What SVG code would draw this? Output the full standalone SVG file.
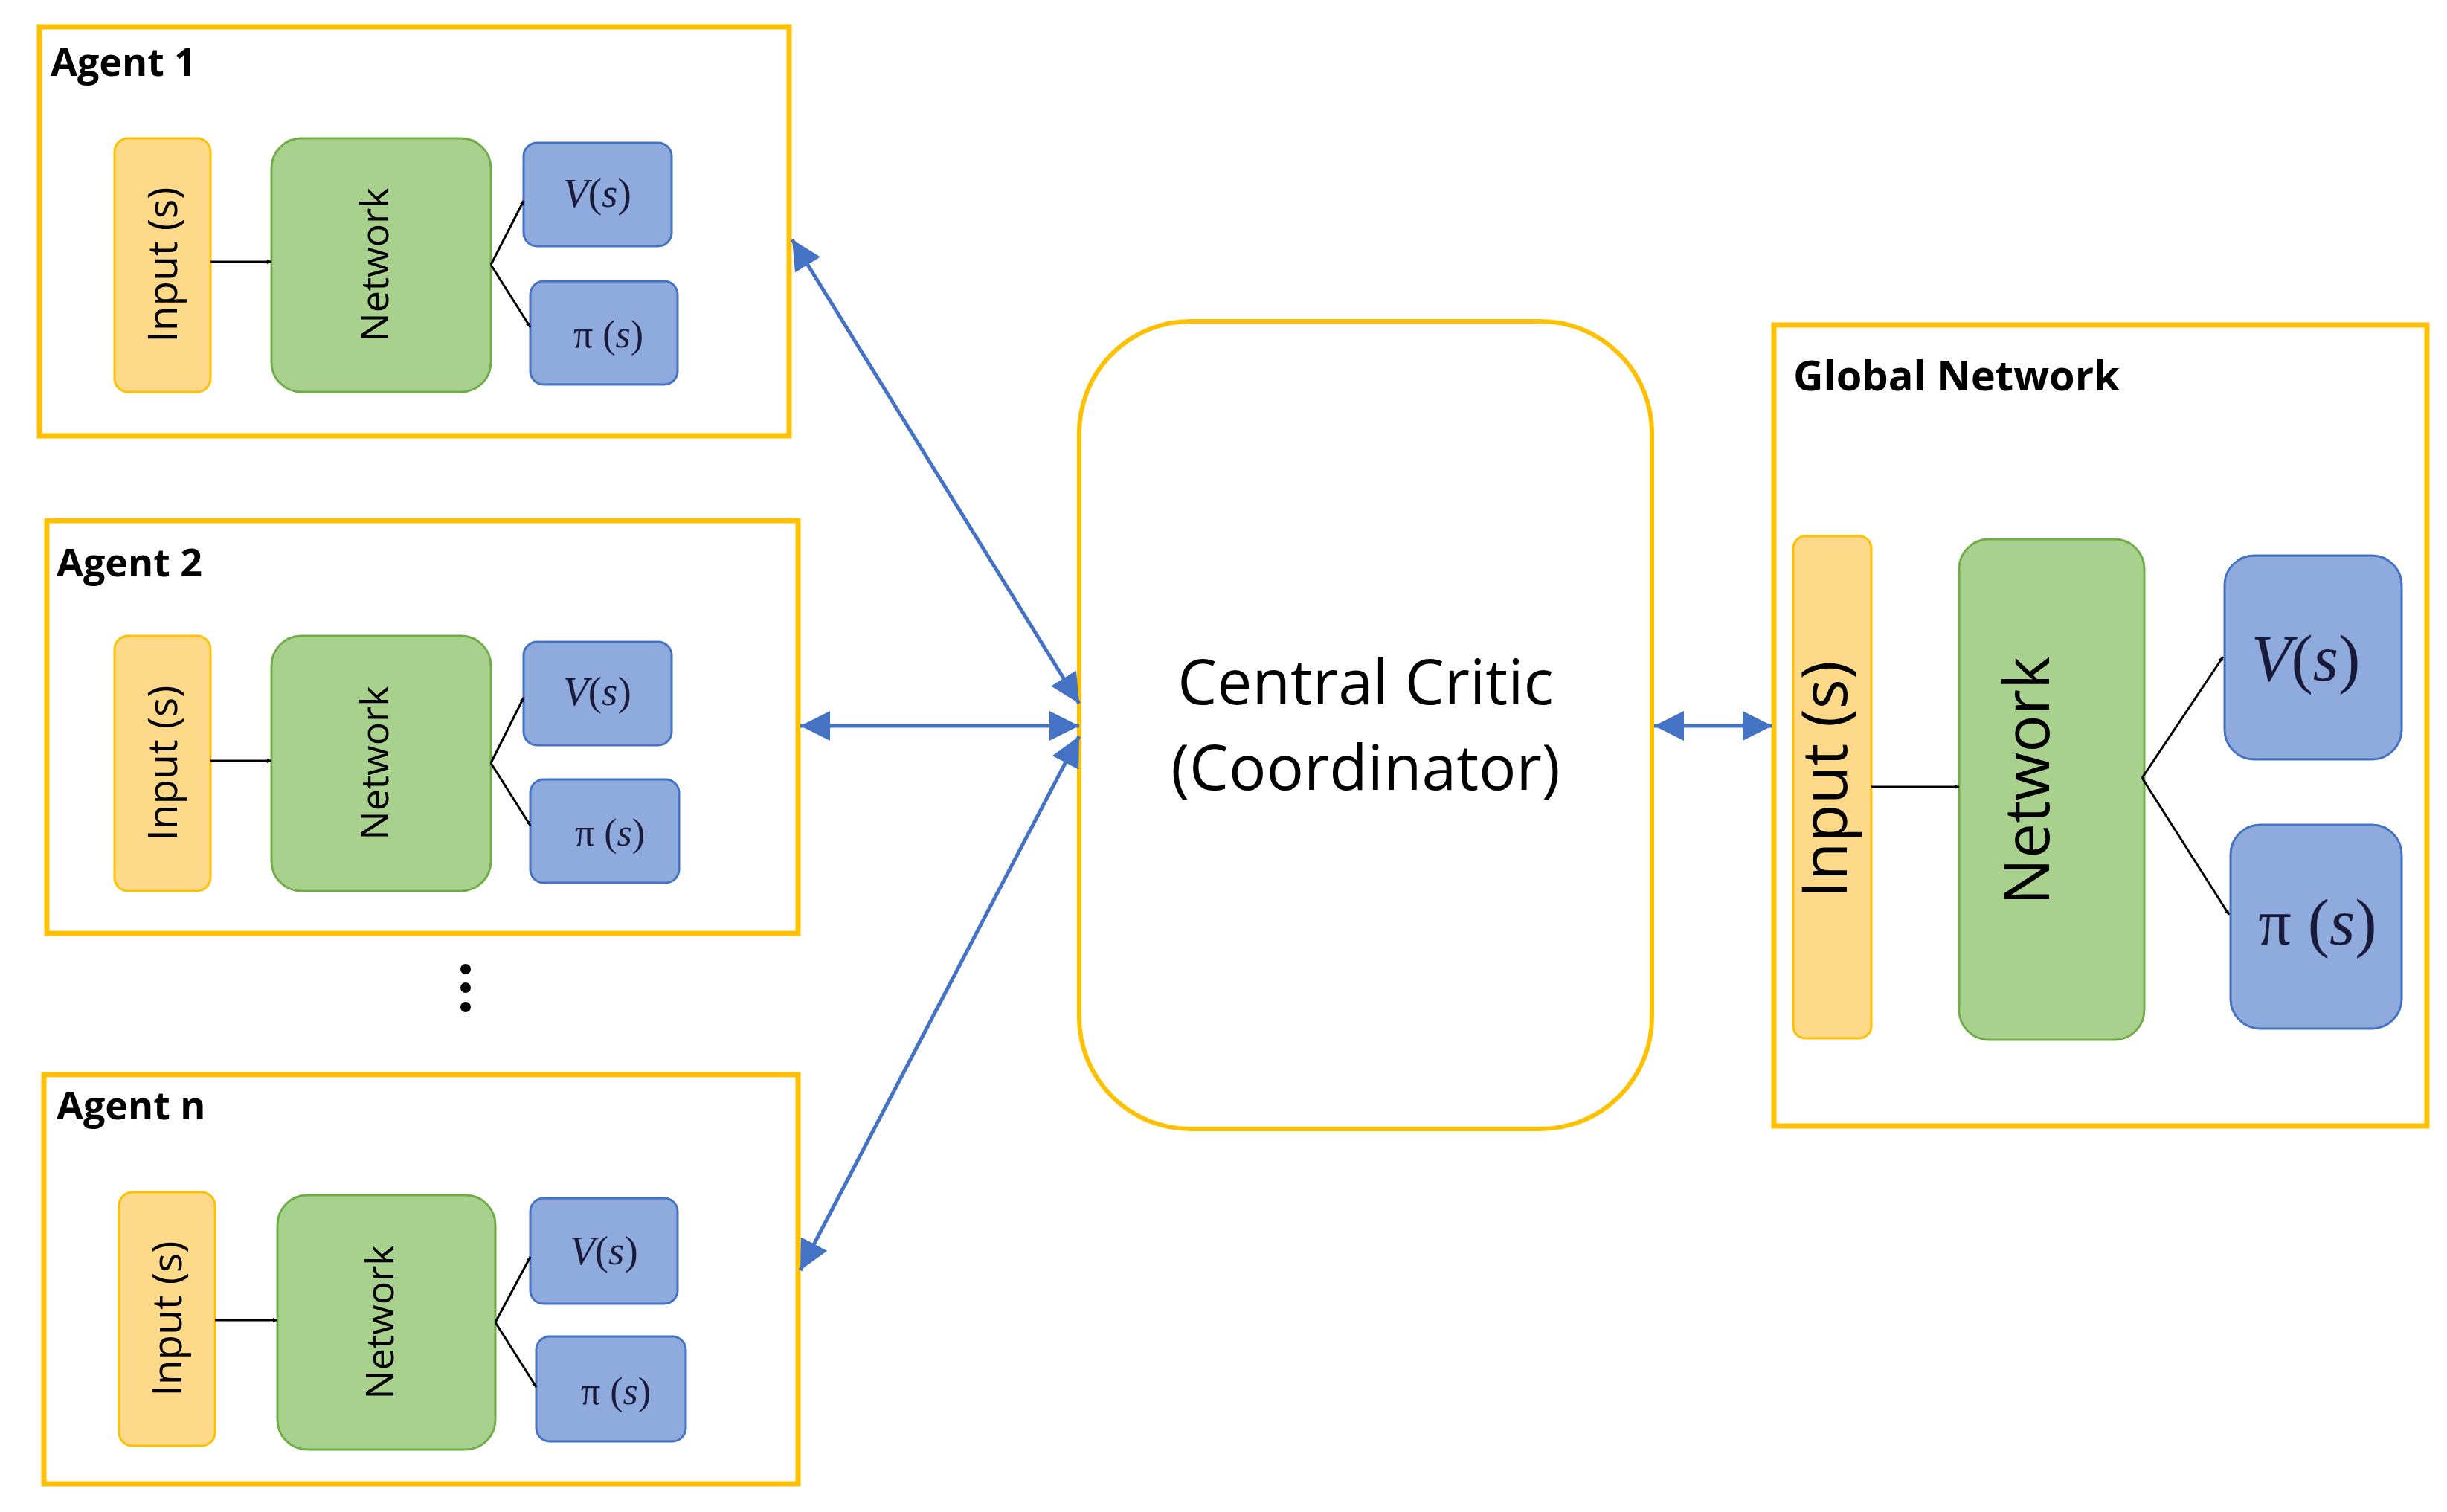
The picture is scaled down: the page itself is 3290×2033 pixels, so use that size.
<svg xmlns="http://www.w3.org/2000/svg" width="3290" height="2033" viewBox="0 0 3290 2033">
<style>
.frame{fill:#fff;stroke:#FFC000;stroke-width:7}
.inp{fill:#FFD98A;stroke:#FFC000;stroke-width:3}
.net{fill:#A9D18E;stroke:#70AD47;stroke-width:3}
.out{fill:#8FAADC;stroke:#4472C4;stroke-width:3}
.title{font-family:"Open Sans","Liberation Sans",sans-serif;font-weight:bold;fill:#000}
.lbl{font-family:"Open Sans","Liberation Sans",sans-serif;fill:#000}
.math{font-family:"Liberation Serif",serif;fill:#1a1a3a}
.blk{stroke:#000;stroke-width:3;fill:none}
.blu{stroke:#4472C4;stroke-width:5;fill:none;marker-start:url(#ba);marker-end:url(#ba)}
</style>
<defs>
<marker id="ka" viewBox="0 0 10 10" refX="10" refY="5" markerWidth="6" markerHeight="6" markerUnits="userSpaceOnUse" orient="auto"><path d="M0,0L10,5L0,10z" fill="#000"/></marker>
<marker id="ba" viewBox="0 0 10 10" refX="10" refY="5" markerWidth="8" markerHeight="8" orient="auto-start-reverse"><path d="M0,0L10,5L0,10z" fill="#4472C4"/></marker>
</defs>
<rect width="3290" height="2033" fill="#fff"/>
<g id="agent1">
<rect class="frame" x="53" y="36" width="1008" height="550"/>
<text class="title" x="68" y="102" font-size="52">Agent 1</text>
<rect class="inp" x="154" y="186" width="129" height="341" rx="18"/>
<text class="lbl" font-size="55" text-anchor="middle" transform="translate(238,356) rotate(-90)">Input (s)</text>
<rect class="net" x="365" y="186" width="295" height="341" rx="40"/>
<text class="lbl" font-size="52" text-anchor="middle" transform="translate(522,356) rotate(-90)">Network</text>
<rect class="out" x="704" y="192" width="199" height="139" rx="18"/>
<text class="math" x="803" y="278" font-size="55" text-anchor="middle"><tspan font-style="italic">V</tspan>(<tspan font-style="italic">s</tspan>)</text>
<rect class="out" x="713" y="378" width="198" height="139" rx="18"/>
<text class="math" x="818" y="467" font-size="52" text-anchor="middle">π (<tspan font-style="italic">s</tspan>)</text>
<path class="blk" d="M283,352H365" marker-end="url(#ka)" stroke-width="6"/>
<path class="blk" d="M660,356L704,270" marker-end="url(#ka)"/>
<path class="blk" d="M660,356L713,440" marker-end="url(#ka)"/>
</g>
<g id="agent2">
<rect class="frame" x="63" y="700" width="1010" height="555"/>
<text class="title" x="76" y="775" font-size="52">Agent 2</text>
<rect class="inp" x="154" y="855" width="129" height="343" rx="18"/>
<text class="lbl" font-size="55" text-anchor="middle" transform="translate(238,1026) rotate(-90)">Input (s)</text>
<rect class="net" x="365" y="855" width="295" height="343" rx="40"/>
<text class="lbl" font-size="52" text-anchor="middle" transform="translate(522,1026) rotate(-90)">Network</text>
<rect class="out" x="704" y="863" width="199" height="139" rx="18"/>
<text class="math" x="803" y="948" font-size="55" text-anchor="middle"><tspan font-style="italic">V</tspan>(<tspan font-style="italic">s</tspan>)</text>
<rect class="out" x="713" y="1048" width="200" height="139" rx="18"/>
<text class="math" x="820" y="1137" font-size="52" text-anchor="middle">π (<tspan font-style="italic">s</tspan>)</text>
<path class="blk" d="M283,1023H365" marker-end="url(#ka)" stroke-width="6"/>
<path class="blk" d="M660,1026L704,938" marker-end="url(#ka)"/>
<path class="blk" d="M660,1026L713,1110" marker-end="url(#ka)"/>
</g>
<g id="dots" fill="#000">
<circle cx="626" cy="1303" r="7"/><circle cx="626" cy="1328" r="7"/><circle cx="626" cy="1354" r="7"/>
</g>
<g id="agentn">
<rect class="frame" x="59" y="1445" width="1014" height="550"/>
<text class="title" x="76" y="1505" font-size="52">Agent n</text>
<rect class="inp" x="160" y="1603" width="129" height="341" rx="18"/>
<text class="lbl" font-size="55" text-anchor="middle" transform="translate(244,1773) rotate(-90)">Input (s)</text>
<rect class="net" x="373" y="1607" width="293" height="342" rx="40"/>
<text class="lbl" font-size="52" text-anchor="middle" transform="translate(529,1778) rotate(-90)">Network</text>
<rect class="out" x="713" y="1611" width="198" height="142" rx="18"/>
<text class="math" x="812" y="1700" font-size="55" text-anchor="middle"><tspan font-style="italic">V</tspan>(<tspan font-style="italic">s</tspan>)</text>
<rect class="out" x="721" y="1797" width="201" height="141" rx="18"/>
<text class="math" x="828" y="1888" font-size="52" text-anchor="middle">π (<tspan font-style="italic">s</tspan>)</text>
<path class="blk" d="M289,1775H373" marker-end="url(#ka)" stroke-width="6"/>
<path class="blk" d="M666,1778L713,1690" marker-end="url(#ka)"/>
<path class="blk" d="M666,1778L721,1865" marker-end="url(#ka)"/>
</g>
<g id="central">
<rect x="1451" y="432" width="770" height="1086" rx="150" fill="#fff" stroke="#FFC000" stroke-width="6"/>
<text class="lbl" x="1836" y="947" font-size="84" text-anchor="middle">Central Critic</text>
<text class="lbl" x="1836" y="1062" font-size="84" text-anchor="middle">(Coordinator)</text>
</g>
<g id="global">
<rect class="frame" x="2385" y="437" width="878" height="1077"/>
<text class="title" x="2411" y="525" font-size="56">Global Network</text>
<rect class="inp" x="2411" y="721" width="105" height="675" rx="16"/>
<text class="lbl" font-size="84" text-anchor="middle" transform="translate(2483,1048) rotate(-90)">Input (s)</text>
<rect class="net" x="2634" y="725" width="249" height="673" rx="40"/>
<text class="lbl" font-size="84" text-anchor="middle" transform="translate(2755,1050) rotate(-90)">Network</text>
<rect class="out" x="2991" y="747" width="238" height="274" rx="40"/>
<text class="math" x="3100" y="915" font-size="88" text-anchor="middle"><tspan font-style="italic">V</tspan>(<tspan font-style="italic">s</tspan>)</text>
<rect class="out" x="2999" y="1109" width="230" height="274" rx="40"/>
<text class="math" x="3116" y="1270" font-size="88" text-anchor="middle">π (<tspan font-style="italic">s</tspan>)</text>
<path class="blk" d="M2516,1058H2634" marker-end="url(#ka)" stroke-width="5"/>
<path class="blk" d="M2880,1046L2989,883" marker-end="url(#ka)" stroke-width="5"/>
<path class="blk" d="M2880,1046L2997,1230" marker-end="url(#ka)" stroke-width="5"/>
</g>
<g id="connectors">
<path class="blu" d="M1065,322L1451,946"/>
<path class="blu" d="M1076,976H1451"/>
<path class="blu" d="M1076,1708L1451,990"/>
<path class="blu" d="M2224,976H2383"/>
</g>
</svg>
